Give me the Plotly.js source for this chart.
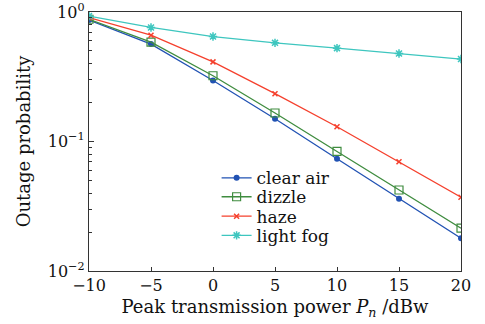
<!DOCTYPE html>
<html>
<head>
<meta charset="utf-8">
<script src="https://cdn.plot.ly/plotly-3.0.1.min.js"></script>
<style>html,body{margin:0;padding:0;background:#fff;}#chart{width:485px;height:324px;}</style>
</head>
<body>
<div id="chart"></div>
<script>
var powerDBw = [-10, -5, 0, 5, 10, 15, 20];
var clearAir = [0.867, 0.565, 0.296, 0.150, 0.0736, 0.0362, 0.0179];
var dizzle   = [0.879, 0.585, 0.322, 0.166, 0.0838, 0.0422, 0.0214];
var haze     = [0.904, 0.662, 0.412, 0.234, 0.130, 0.0698, 0.0371];
var lightFog = [0.93, 0.76, 0.646, 0.578, 0.526, 0.478, 0.433];
var seriesNames = ['clear air', 'dizzle', 'haze', 'light fog'];
var xTickVals = [-10, -5, 0, 5, 10, 15, 20];
var yTickVals = [0.01, 0.1, 1];
var yTickText = ['10<sup>\u22122</sup>', '10<sup>\u22121</sup>', '10<sup>0</sup>'];

var font = 'DejaVu Serif, serif';
function tr(y, name, color, symbol, size, lw, lg) {
  return {
    x: powerDBw, y: y, name: name, type: 'scatter', mode: 'lines+markers', legend: lg,
    line: {color: color, width: 1.3},
    marker: {symbol: symbol, size: size, color: color, line: {color: color, width: lw}}
  };
}
var data = [
  tr(clearAir, seriesNames[0], '#2152b3', 'circle', 6, 0, 'legend'),
  tr(dizzle, seriesNames[1], '#3f8c3f', 'square-open', 8, 1.2, 'legend2'),
  tr(haze, seriesNames[2], '#f5402d', 'x-thin-open', 5, 1.5, 'legend3'),
  tr(lightFog, seriesNames[3], '#3ec6bf', 'asterisk-open', 7, 1.5, 'legend4')
];
function lg(y) {
  return {x: 0.343, y: y, xanchor: 'left', yanchor: 'middle', bgcolor: 'rgba(0,0,0,0)',
          font: {family: font, size: 17, color: '#111'}, itemwidth: 30};
}
var layout = {
  width: 485, height: 324,
  margin: {l: 89, r: 24, t: 12, b: 53},
  paper_bgcolor: '#fff', plot_bgcolor: '#fff',
  font: {family: font, color: '#111', size: 16},
  showlegend: true,
  legend: lg(0.358), legend2: lg(0.285), legend3: lg(0.210), legend4: lg(0.136),
  xaxis: {
    range: [-10, 20], tickvals: xTickVals, ticks: 'inside', ticklen: 4, tickcolor: '#333',
    showline: true, linecolor: '#333', linewidth: 1.2, mirror: true, showgrid: false, zeroline: false,
    tickfont: {family: font, size: 16},
    title: {text: 'Peak transmission power <i>P</i><sub><i>n</i></sub> /dBw', font: {family: font, size: 18}, standoff: 6}
  },
  yaxis: {
    type: 'log', range: [-2, 0], tickvals: yTickVals, ticktext: yTickText,
    ticks: 'inside', ticklen: 5, tickcolor: '#333',
    minor: {ticks: 'inside', ticklen: 3, tickcolor: '#333', dtick: 'D1', showgrid: false},
    showline: true, linecolor: '#333', linewidth: 1.2, mirror: true, showgrid: false, zeroline: false,
    tickfont: {family: font, size: 16},
    title: {text: 'Outage probability', font: {family: font, size: 18}, standoff: 12}
  }
};
Plotly.newPlot('chart', data, layout, {displayModeBar: false, staticPlot: true});
</script>
</body>
</html>
